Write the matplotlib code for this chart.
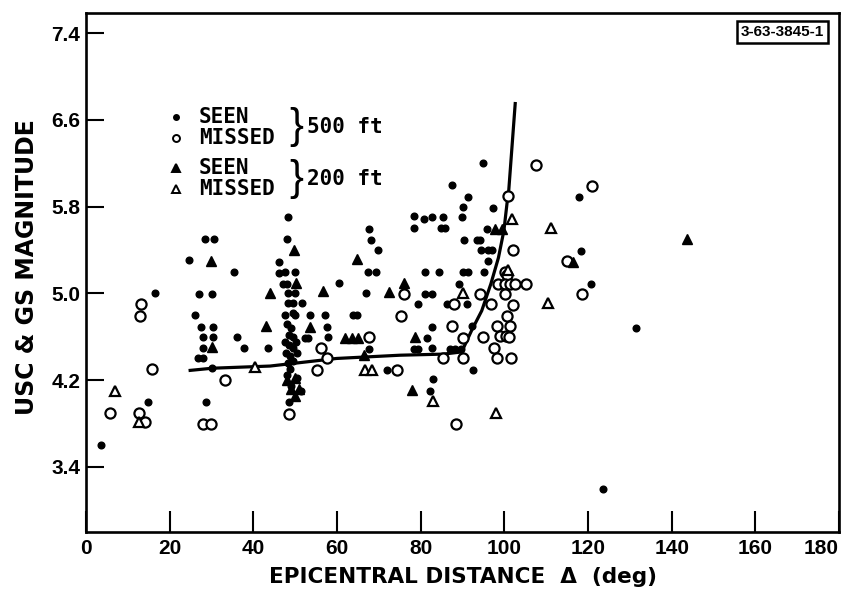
import matplotlib
matplotlib.use("Agg")
import matplotlib.pyplot as plt

# ---------------- data ----------------
# 500 ft seen (filled dots)
seen500_x = [24.6, 35.3, 46.1, 46.1, 16.6, 27.1, 30.2, 26.1, 27.5, 30.3, 27.9, 30.3, 36.2,
             27.9, 37.8, 43.4, 26.8, 28.0, 30.2, 14.8, 28.8, 3.5, 28.4, 30.6,
             69.9, 47.6, 50.0, 67.3, 69.3, 81.0, 84.4, 90.2, 47.2, 48.0, 60.5, 89.2, 48.4, 50.0,
             66.9, 81.0, 82.6, 48.4, 49.5, 51.7, 86.2, 91.0, 47.6, 49.4, 50.0, 53.6, 57.1, 63.9,
             64.8, 82.6, 57.5, 52.4, 53.1, 57.9, 81.6, 67.7, 78.4, 79.4, 82.6, 87.0, 88.2, 89.6,
             48.8, 71.9, 83.0, 82.2, 48.5,
             48.0, 49.0, 48.5, 49.5, 47.5, 48.5, 49.5, 47.8, 48.8, 49.6, 48.2, 50.5, 50.2, 48.0,
             50.5, 49.0, 51.5,
             48.4, 67.7, 68.1, 48.0,
             95.0, 87.6, 91.2, 90.0, 97.2, 78.3, 80.9, 82.8, 85.4, 89.9, 78.3, 84.8, 85.8, 95.9,
             90.4, 93.4, 94.2, 94.4, 96.2, 97.0, 96.2, 91.4, 95.2, 79.3, 87.4, 92.2, 92.4,
             117.9, 118.4, 120.7, 131.4, 123.6]
seen500_y = [5.31, 5.20, 5.29, 5.19, 5.00, 4.99, 4.99, 4.80, 4.69, 4.69, 4.60, 4.60, 4.60,
             4.50, 4.50, 4.50, 4.40, 4.40, 4.31, 4.00, 4.00, 3.60, 5.50, 5.50,
             5.40, 5.20, 5.20, 5.20, 5.20, 5.20, 5.20, 5.20, 5.09, 5.09, 5.10, 5.09, 5.00, 5.00,
             5.00, 4.99, 4.99, 4.91, 4.91, 4.91, 4.90, 4.90, 4.80, 4.82, 4.80, 4.80, 4.80, 4.80,
             4.80, 4.69, 4.69, 4.59, 4.59, 4.60, 4.59, 4.49, 4.49, 4.49, 4.50, 4.49, 4.49, 4.49,
             4.30, 4.29, 4.21, 4.10, 4.00,
             4.72, 4.68, 4.62, 4.60, 4.55, 4.52, 4.50, 4.45, 4.42, 4.38, 4.36, 4.45, 4.55, 4.25,
             4.22, 4.15, 4.10,
             5.70, 5.59, 5.49, 5.50,
             6.20, 6.00, 5.89, 5.80, 5.79, 5.71, 5.69, 5.70, 5.70, 5.70, 5.60, 5.60, 5.60, 5.59,
             5.49, 5.49, 5.49, 5.40, 5.40, 5.40, 5.30, 5.20, 5.20, 4.90, 4.90, 4.70, 4.29,
             5.89, 5.39, 5.09, 4.68, 3.20]

# 500 ft missed (open circles)
missed500_x = [13.1, 12.9, 15.7, 33.2, 5.7, 12.7, 14.1, 27.9, 29.9,
               75.9, 88.0, 75.3, 87.4, 67.7, 90.0, 56.1, 57.5, 85.3, 90.2, 55.3, 74.3, 48.5, 88.5,
               107.5, 100.9, 102.1, 100.2, 100.7, 98.6, 100.2, 101.4, 102.6, 105.2, 94.3, 100.2,
               96.8, 102.1, 100.6, 98.2, 101.4, 94.8, 99.0, 100.4, 101.2, 97.6, 98.3, 101.7,
               120.9, 114.9, 118.5]
missed500_y = [4.90, 4.79, 4.30, 4.20, 3.90, 3.90, 3.81, 3.80, 3.80,
               4.99, 4.90, 4.79, 4.70, 4.60, 4.59, 4.50, 4.40, 4.40, 4.40, 4.29, 4.29, 3.89, 3.80,
               6.18, 5.90, 5.40, 5.20, 5.17, 5.09, 5.09, 5.09, 5.09, 5.09, 4.99, 4.99,
               4.90, 4.89, 4.79, 4.70, 4.70, 4.60, 4.61, 4.61, 4.60, 4.50, 4.40, 4.40,
               5.99, 5.30, 4.99]

# 200 ft seen (filled triangles)
seen200_x = [29.9, 44.0, 43.0, 30.2, 49.7, 64.9, 50.2, 76.0, 56.6, 72.4, 53.6, 61.9, 63.5,
             65.1, 78.6, 66.5, 78.0, 97.8, 99.4, 116.3, 143.6,
             48.0, 50.0, 49.0, 51.0, 50.0]
seen200_y = [5.30, 5.00, 4.70, 4.51, 5.40, 5.32, 5.10, 5.10, 5.02, 5.01, 4.69, 4.59, 4.59,
             4.59, 4.60, 4.43, 4.11, 5.59, 5.59, 5.29, 5.50,
             4.20, 4.22, 4.12, 4.12, 4.05]

# 200 ft missed (open triangles)
missed200_x = [6.9, 12.7, 40.4, 90.0, 66.7, 68.3, 83.0, 101.9, 111.1, 110.5, 98.0, 100.8]
missed200_y = [4.10, 3.81, 4.32, 5.00, 4.29, 4.29, 4.01, 5.69, 5.60, 4.91, 3.90, 5.22]

# threshold curve
curve_x = [24.9, 30.2, 44.0, 59.9, 75.1, 85.4, 89.8, 92.2, 94.6, 96.8, 98.6, 99.9, 100.7, 101.0, 102.6]
curve_y = [4.29, 4.31, 4.33, 4.40, 4.43, 4.44, 4.46, 4.66, 4.84, 5.09, 5.33, 5.58, 5.85, 5.92, 6.75]

xticks = [0, 20, 40, 60, 80, 100, 120, 140, 160, 180]
yticks = [3.4, 4.2, 5.0, 5.8, 6.6, 7.4]
ytick_labels = ["3.4", "4.2", "5.0", "5.8", "6.6", "7.4"]

legend_labels = ["SEEN", "MISSED", "SEEN", "MISSED"]
group_labels = ["500 ft", "200 ft"]
code_label = "3-63-3845-1"

# ---------------- figure ----------------
fig = plt.figure(figsize=(8.47, 5.94), dpi=100)
AX_L, AX_R, AX_T, AX_B = 86, 839, 13, 532
ax = fig.add_axes([AX_L/847, 1-AX_B/594, (AX_R-AX_L)/847, (AX_B-AX_T)/594])

tick_font = dict(family=["Liberation Sans", "DejaVu Sans"], weight="bold", size=15)
xlabel_font = dict(family=["DejaVu Sans"], weight="bold", size=15.5)
ylabel_font = dict(family=["DejaVu Sans"], weight="bold", size=17)
leg_font = dict(family=["DejaVu Sans Mono", "DejaVu Sans"], weight="bold", size=15)

ax.plot(curve_x, curve_y, color="black", lw=2.3, zorder=2)
ax.plot(seen500_x, seen500_y, linestyle="none", marker="o", ms=4.8, color="black", zorder=3)
ax.plot(missed500_x, missed500_y, linestyle="none", marker="o", ms=7.3, mfc="white",
        mec="black", mew=1.6, zorder=3)
ax.plot(seen200_x, seen200_y, linestyle="none", marker="^", ms=7.5, color="black", zorder=3)
ax.plot(missed200_x, missed200_y, linestyle="none", marker="^", ms=7.3, mfc="white",
        mec="black", mew=1.6, zorder=3)

ax.set_xlim(0, 180)
ax.set_ylim(2.8, 7.585)
ax.set_xticks(xticks)
xlabels = ax.set_xticklabels([str(t) for t in xticks], **tick_font)
xlabels[-1].set_horizontalalignment("right")
ax.set_yticks(yticks)
ax.set_yticklabels(ytick_labels, **tick_font)
ax.tick_params(axis="x", direction="in", length=15, width=1.5, pad=5, top=False)
ax.tick_params(axis="y", direction="in", length=13, width=1.5, pad=4, right=False)
for s in ax.spines.values():
    s.set_linewidth(1.9)

ax.set_xlabel("EPICENTRAL DISTANCE  Δ  (deg)", **xlabel_font)
ax.set_ylabel("USC & GS MAGNITUDE", **ylabel_font)
ax.xaxis.set_label_coords(0.5, -0.068)
ax.yaxis.set_label_coords(-0.062, 0.51)


def axpt(px, py):
    return ((px - AX_L) / (AX_R - AX_L), (AX_B - py) / (AX_B - AX_T))


# legend drawn by hand to reproduce the braces
rows = [(117, "o", "black", 3.6), (138, "o", "white", 5.0),
        (168, "^", "black", 5.6), (189, "^", "white", 5.2)]
for (py, m, fc, ms), t in zip(rows, legend_labels):
    mx, my = axpt(176, py)
    ax.plot([mx], [my], marker=m, ms=ms, mfc=fc, mec="black", mew=1.4,
            transform=ax.transAxes, clip_on=False, linestyle="none")
    tx, ty = axpt(199, py)
    ax.text(tx, ty, t, transform=ax.transAxes, ha="left", va="center", **leg_font)

for (py, lab) in zip([127, 179], group_labels):
    bx, by = axpt(296, py)
    ax.text(bx, by, "}", transform=ax.transAxes, ha="center", va="center",
            family="Liberation Sans", size=30, weight="normal")
    tx, ty = axpt(307, py)
    ax.text(tx, ty, lab, transform=ax.transAxes, ha="left", va="center", **leg_font)

# figure code box
ax.text(0.980, 0.963, code_label, transform=ax.transAxes, ha="right", va="center",
        family=["Liberation Sans Narrow", "Liberation Sans", "DejaVu Sans"], weight="bold", size=11,
        bbox=dict(boxstyle="square,pad=0.25", fc="white", ec="black", lw=1.8))

fig.savefig("out.png", dpi=100)
